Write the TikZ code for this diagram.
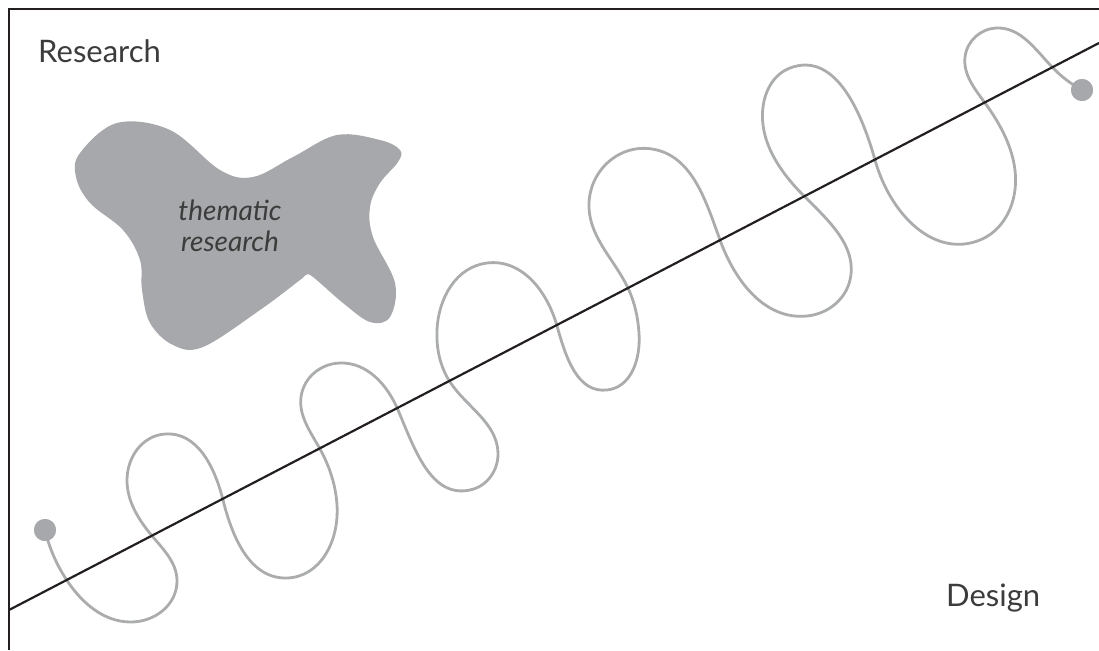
\documentclass[tikz,border=0pt]{standalone}
\usepackage{fontspec}
\setmainfont{Lato}
\usepackage{tikz}
\usetikzlibrary{positioning,hobby}
\usepackage{xcolor}
\definecolor{blobgray}{HTML}{A7A8AB}
\definecolor{wiggle}{HTML}{ABACAE}
\definecolor{ink}{HTML}{231F20}
\definecolor{labeltext}{HTML}{3C3C3C}

\begin{document}
\begin{tikzpicture}[x=1pt,y=-1pt,
  frame/.style={draw=ink,line width=2.8pt},
  axis/.style={draw=ink,line width=2.2pt},
  wave/.style={draw=wiggle,line width=2.8pt,line cap=round},
  dot/.style={circle,fill=blobgray,inner sep=0pt,minimum size=22pt},
  corner/.style={font=\fontsize{31}{36}\selectfont,text=labeltext,inner sep=0pt}]
\useasboundingbox (0,0) rectangle (1099,650);
% frame, only top and left edges show
\draw[frame] (9,650) -- (9,9) -- (1099,9);
% the blob
\fill[blobgray] plot[smooth cycle,tension=0.6] coordinates {
  (80,153) (117,123) (170,130) (220,170) (253,177) (293,157) (337,135)
  (380,140) (400,150) (398,162) (380,183) (370,207) (373,237) (395,283) (390,317)
  (370,322) (343,303) (313,277) (306,275) (300,280) (260,310) (203,347) (173,345)
  (150,323) (142,290) (140,260) (123,230) (90,203) (76,177)};
\node[font=\itshape\fontsize{28}{31}\selectfont,text=labeltext,align=center,inner sep=0pt] (theme) at (230,226) {thematic\\research};
% labels
\node[corner,anchor=base west] (research) at (38,63) {Research};
\node[corner,anchor=base west] (design) at (946,606) {Design};
% the wiggle
\node[dot] (start) at (45,530) {};
\node[dot] (finish) at (1082,90) {};
\draw[wave] (start.center) to[curve through={
  (68,582) (130,622) (177,580) (153,537) (127,480) (165,434)
  (223,500) (287,578) (337,505) (320,449) (301,397) (340,363) (398,410)
  (470,490) (498,453) (450,382) (437,330) (487,263) (557,326) (607,390)
  (639,333) (628,288) (589,208) (652,149) (720,240) (807,316) (850,280)
  (805,197) (763,107) (790,68) (875,160) (980,240) (1013,200) (985,103)
  (965,57) (997,28) (1053,68)}] (finish.center);
\node[dot] at (start) {};
\node[dot] at (finish) {};
% the line
\coordinate (lo) at (9,610);
\coordinate (hi) at (1099,43);
\draw[axis] (lo) -- (hi);
\end{tikzpicture}
\end{document}
